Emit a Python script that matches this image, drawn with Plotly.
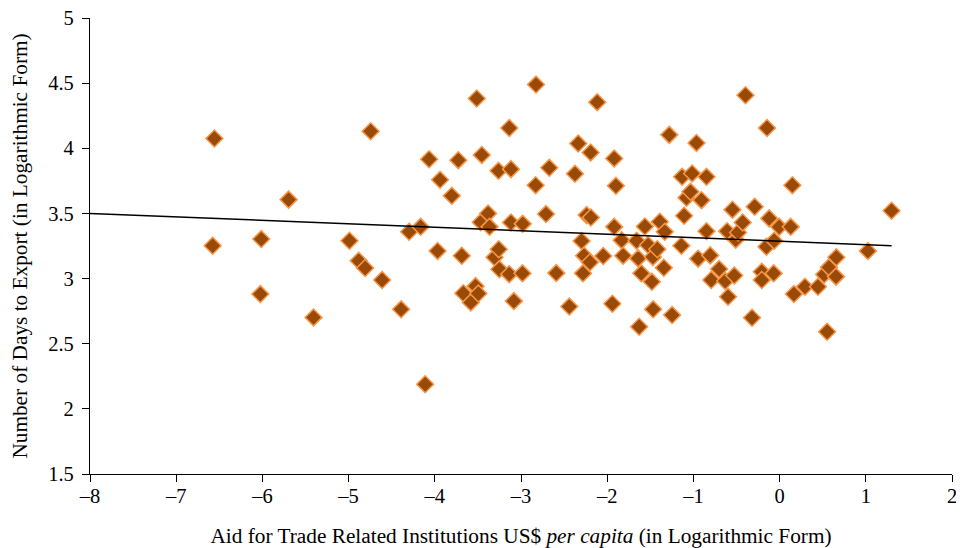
import plotly.graph_objects as go

# Aid for Trade (log) vs days to export (log)
aid_log = [
    -6.557, -6.577, -6.013, -6.024, -5.696, -5.407, -4.744, -4.990, -4.883, -4.808,
    -4.611, -4.391, -4.298, -4.165, -4.112, -4.066, -3.968, -3.939, -3.803, -3.727,
    -3.687, -3.669, -3.582, -3.513, -3.527, -3.495, -3.455, -3.467, -3.382, -3.365,
    -3.307, -3.261, -3.258, -3.251, -3.136, -3.116, -3.116, -3.083, -3.137, -2.980,
    -2.983, -2.826, -2.830, -2.710, -2.672, -2.591, -2.440, -2.374, -2.336, -2.297,
    -2.281, -2.268, -2.239, -2.189, -2.192, -2.200, -2.116, -2.046, -1.940, -1.919,
    -1.899, -1.919, -1.833, -1.815, -1.659, -1.641, -1.629, -1.604, -1.563, -1.525,
    -1.482, -1.470, -1.467, -1.419, -1.390, -1.343, -1.332, -1.280, -1.247, -1.140,
    -1.131, -1.108, -1.080, -1.034, -1.015, -0.964, -0.945, -0.906, -0.848, -0.848,
    -0.805, -0.793, -0.701, -0.631, -0.609, -0.598, -0.547, -0.526, -0.509, -0.482,
    -0.428, -0.396, -0.320, -0.289, -0.207, -0.207, -0.153, -0.146, -0.121, -0.069,
    -0.063, -0.005, 0.129, 0.148, 0.166, 0.294, 0.445, 0.517, 0.551, 0.572,
    0.654, 0.658, 1.024, 1.299,
]
days_log = [
    4.075, 3.252, 3.303, 2.881, 3.606, 2.702, 4.131, 3.290, 3.137, 3.081,
    2.989, 2.764, 3.359, 3.397, 2.189, 3.916, 3.212, 3.758, 3.635, 3.909,
    3.175, 2.887, 2.817, 4.382, 2.942, 2.885, 3.949, 3.433, 3.500, 3.397,
    3.163, 3.827, 3.225, 3.071, 4.156, 3.840, 3.431, 2.827, 3.034, 3.420,
    3.040, 4.489, 3.717, 3.495, 3.850, 3.042, 2.785, 3.804, 4.037, 3.289,
    3.040, 3.176, 3.487, 3.469, 3.968, 3.125, 4.354, 3.173, 2.807, 3.922,
    3.712, 3.397, 3.295, 3.176, 3.290, 3.155, 2.630, 3.040, 3.400, 3.257,
    2.975, 3.166, 2.764, 3.225, 3.436, 3.083, 3.359, 4.103, 2.720, 3.252,
    3.781, 3.482, 3.620, 3.666, 3.807, 4.041, 3.153, 3.602, 3.781, 3.364,
    3.178, 2.989, 3.073, 2.981, 3.364, 2.860, 3.529, 3.023, 3.299, 3.354,
    3.431, 4.407, 2.699, 3.551, 3.052, 2.989, 3.244, 4.156, 3.462, 3.040,
    3.291, 3.397, 3.397, 3.717, 2.881, 2.937, 2.937, 3.031, 2.592, 3.086,
    3.015, 3.163, 3.211, 3.521,
]

# linear trend line end points
trend_x = [-8, 1.3]
trend_y = [3.500, 3.252]

x_ticks = [-8, -7, -6, -5, -4, -3, -2, -1, 0, 1, 2]
x_labels = ["–8", "–7", "–6", "–5", "–4", "–3", "–2", "–1", "0", "1", "2"]
y_ticks = [1.5, 2, 2.5, 3, 3.5, 4, 4.5, 5]
y_labels = ["1.5", "2", "2.5", "3", "3.5", "4", "4.5", "5"]

FONT = "Liberation Serif"

fig = go.Figure()
fig.add_trace(go.Scatter(
    x=aid_log, y=days_log, mode="markers",
    marker=dict(symbol="diamond", size=13, color="#994A06",
                line=dict(color="#F7964A", width=1.5)),
    showlegend=False,
))
fig.add_trace(go.Scatter(
    x=trend_x, y=trend_y, mode="lines",
    line=dict(color="black", width=1.5),
    showlegend=False,
))

axis_common = dict(
    showgrid=False, zeroline=False, showline=True, linecolor="black", linewidth=1.3,
    ticks="outside", ticklen=7, tickcolor="black", tickwidth=1.3, automargin=False,
    ticklabeloverflow="allow",
    tickfont=dict(family=FONT, size=20.5, color="black"),
)
fig.update_xaxes(range=[-8, 2], tickvals=x_ticks, ticktext=x_labels, ticklabelstandoff=-4,
                 title=dict(text="Aid for Trade Related Institutions US$ <i>per capita</i> (in Logarithmic Form)",
                            font=dict(family=FONT, size=21.3, color="black"), standoff=22),
                 **axis_common)
fig.update_yaxes(range=[1.5, 5], tickvals=y_ticks, ticktext=y_labels, ticklabelstandoff=4,
                 title=dict(text="Number of Days to Export (in Logarithmic Form)",
                            font=dict(family=FONT, size=21.3, color="black"), standoff=19),
                 **axis_common)

# page body adds an 8px offset, so the figure is drawn slightly smaller than the window
fig.update_layout(
    width=956, height=540,
    margin=dict(l=81.5, r=11.5, t=9.7, b=74),
    plot_bgcolor="white", paper_bgcolor="white",
    font=dict(family=FONT, color="black"),
)

fig.write_html("out.html")
